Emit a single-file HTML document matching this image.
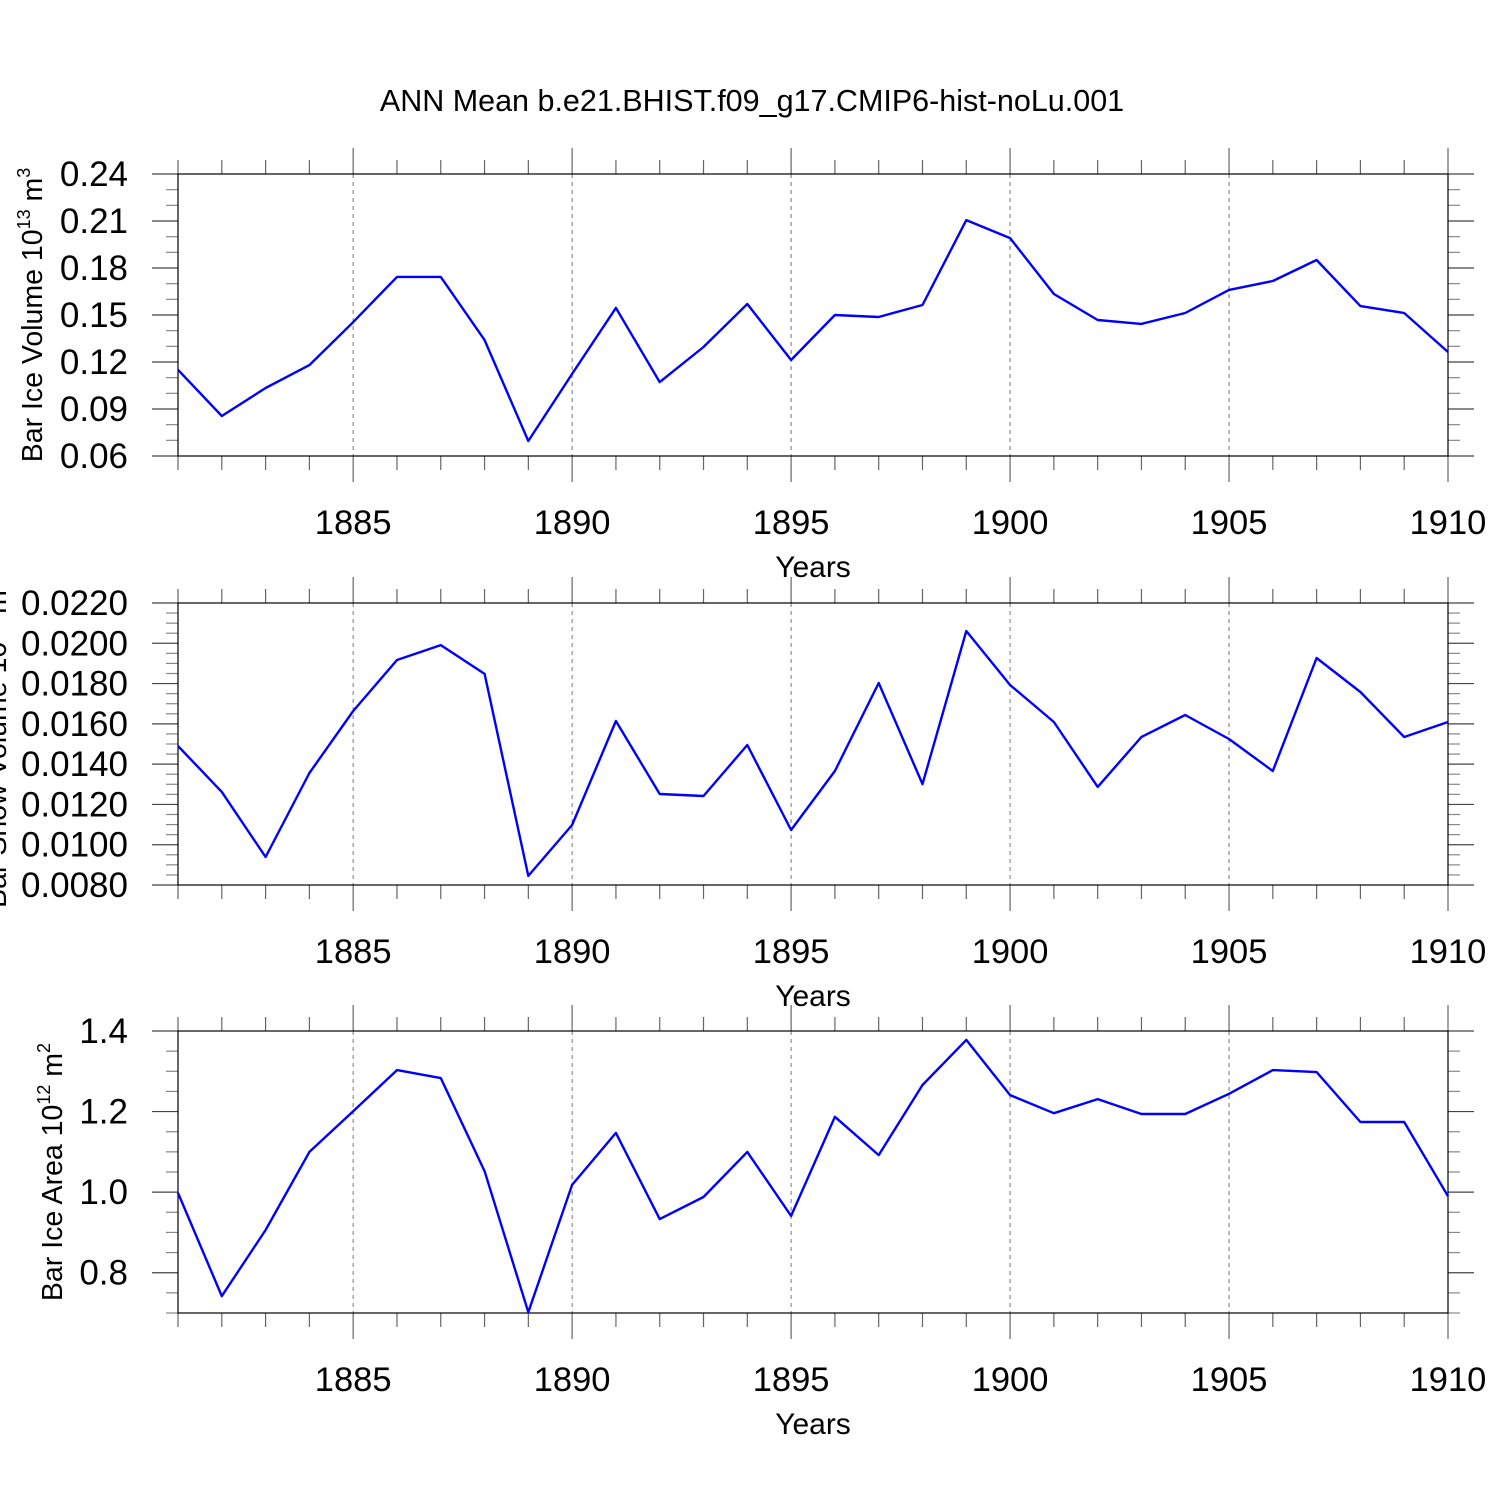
<!DOCTYPE html>
<html><head><meta charset="utf-8"><style>
html,body{margin:0;padding:0;background:#fff;}
svg{display:block;font-family:"Liberation Sans",sans-serif;}
</style></head><body>
<svg id="chart" width="1500" height="1500" viewBox="0 0 1500 1500">
<text x="752" y="111" font-size="30.5" text-anchor="middle">ANN Mean b.e21.BHIST.f09_g17.CMIP6-hist-noLu.001</text>
</svg>
<script>
const years = [1881,1882,1883,1884,1885,1886,1887,1888,1889,1890,1891,1892,1893,1894,1895,1896,1897,1898,1899,1900,1901,1902,1903,1904,1905,1906,1907,1908,1909,1910];
const iceVolume = [0.115,0.0855,0.1034,0.118,0.1455,0.1743,0.1743,0.134,0.0696,0.1124,0.1545,0.1072,0.1296,0.157,0.1213,0.150,0.1487,0.1564,0.2106,0.1991,0.1634,0.1468,0.1443,0.1513,0.166,0.1717,0.1851,0.1557,0.1513,0.1264];
const snowVolume = [0.0149,0.01262,0.00939,0.01356,0.01664,0.01917,0.01991,0.01848,0.00845,0.01098,0.01614,0.01252,0.01242,0.01495,0.01073,0.01366,0.01803,0.01301,0.02061,0.01793,0.01609,0.01287,0.01535,0.01644,0.01525,0.01366,0.01927,0.01758,0.01535,0.01609];
const iceArea = [0.998,0.742,0.906,1.10,1.201,1.303,1.283,1.052,0.702,1.018,1.147,0.933,0.988,1.10,0.941,1.187,1.092,1.266,1.378,1.241,1.196,1.231,1.194,1.194,1.244,1.303,1.298,1.174,1.174,0.99];
const xTickLabels = ["1885","1890","1895","1900","1905","1910"];
const panels = [
 {name:"ice-volume", data:iceVolume, top:174, min:0.06, max:0.24, major:0.03, minor:0.01, dec:2, label:"Bar Ice Volume 10", sup:"13", unit:" m", usup:"3", lx:42},
 {name:"snow-volume", data:snowVolume, top:603, min:0.008, max:0.022, major:0.002, minor:0.0005, dec:4, label:"Bar Snow Volume 10", sup:"13", unit:" m", usup:"3", lx:6},
 {name:"ice-area", data:iceArea, top:1031, min:0.7, max:1.4, major:0.2, minor:0.05, dec:1, label:"Bar Ice Area 10", sup:"12", unit:" m", usup:"2", lx:62}
];
const svg = document.getElementById('chart');
const NS = "http://www.w3.org/2000/svg";
const X0=178, X1=1448, H=282;
const xs = y => X0 + (y-1881)/(1910-1881)*(X1-X0);
function mk(tag, attrs, parent){const e=document.createElementNS(NS,tag);for(const k in attrs)e.setAttribute(k,attrs[k]);(parent||svg).appendChild(e);return e;}
panels.forEach(p=>{
  const g = mk('g',{});
  
  
  const ys = v => p.top + (p.max-v)/(p.max-p.min)*H;
  const bot = p.top+H;
  for(let yr=1885; yr<=1905; yr+=5){
    const l=mk('line',{x1:xs(yr),x2:xs(yr),y1:p.top,y2:bot,stroke:'#777','stroke-width':1,'stroke-dasharray':'4,4'},g);
    
    
  }
  for(let yr=1881; yr<=1910; yr++){
    const maj = yr%5===0;
    const len = maj?26:14;
    mk('line',{x1:xs(yr),x2:xs(yr),y1:p.top-len,y2:p.top,stroke:'#666','stroke-width':1.2},g);
    mk('line',{x1:xs(yr),x2:xs(yr),y1:bot,y2:bot+len,stroke:'#666','stroke-width':1.2},g);
  }
  xTickLabels.forEach(t=>{
    const tx=mk('text',{x:xs(+t),y:bot+78,'font-size':34.5,'text-anchor':'middle'},g);
    tx.textContent=t;
    
    
  });
  const xt=mk('text',{x:813,y:bot+121,'font-size':30,'text-anchor':'middle'},g);
  xt.textContent='Years';
  
  
  const nMin=Math.round((p.max-p.min)/p.minor);
  for(let i=0;i<=nMin;i++){
    const v=p.min+i*p.minor;
    const maj=Math.abs((v/p.major)-Math.round(v/p.major))<1e-6;
    const y=ys(v);
    const len=maj?26:12;
    mk('line',{x1:X0-len,x2:X0,y1:y,y2:y,stroke:maj?'#444':'#888','stroke-width':1.2},g);
    mk('line',{x1:X1,x2:X1+len,y1:y,y2:y,stroke:maj?'#444':'#888','stroke-width':1.2},g);
  }
  const startMaj=Math.ceil(p.min/p.major-1e-6)*p.major;
  for(let v=startMaj; v<=p.max+1e-9; v+=p.major){
    const t=mk('text',{x:128,y:ys(v)+12,'font-size':35,'text-anchor':'end'},g);
    t.textContent=v.toFixed(p.dec);
    
    
  }
  const fr=mk('rect',{x:X0,y:p.top,width:X1-X0,height:H,fill:'none',stroke:'#000','stroke-width':1.2},g);
  
  
  const pts=p.data.map((v,i)=>xs(years[i]).toFixed(1)+','+ys(v).toFixed(1)).join(' ');
  const pl=mk('polyline',{points:pts,fill:'none',stroke:'#0000ff','stroke-width':2.4,'stroke-linejoin':'round'},g);
  
  
  const cy=p.top+H/2;
  const yt=mk('text',{x:p.lx,y:cy,'font-size':28.5,'text-anchor':'middle',transform:`rotate(-90 ${p.lx} ${cy})`},g);
  
  
  const a=document.createElementNS(NS,'tspan');a.textContent=p.label;yt.appendChild(a);
  const b=document.createElementNS(NS,'tspan');b.setAttribute('font-size','18');b.setAttribute('dy','-12');b.textContent=p.sup;yt.appendChild(b);
  const c=document.createElementNS(NS,'tspan');c.setAttribute('dy','12');c.textContent=p.unit;yt.appendChild(c);
  const d=document.createElementNS(NS,'tspan');d.setAttribute('font-size','18');d.setAttribute('dy','-12');d.textContent=p.usup;yt.appendChild(d);
});
</script>
</body></html>
